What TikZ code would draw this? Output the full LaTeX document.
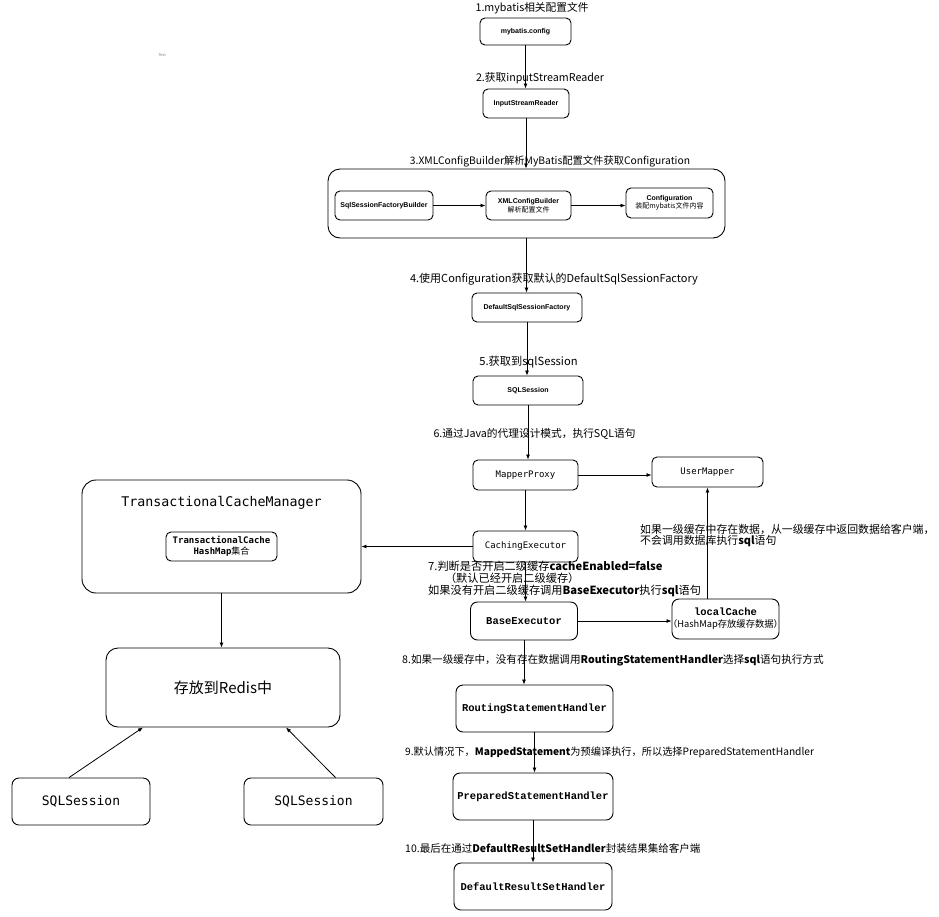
\documentclass[tikz,border=0pt]{standalone}
\usepackage{fontspec}
\setmainfont{Liberation Sans}
\newfontfamily\cjk{Noto Sans CJK SC}
\newfontfamily\cour{Liberation Mono}
\newfontfamily\dmono{DejaVu Sans Mono}
\usetikzlibrary{arrows.meta}

\begin{document}
\begin{tikzpicture}[x=1pt, y=-1pt,
    box/.style={draw, rounded corners=5pt, line width=0.9pt, align=center, inner sep=1pt},
    hbox/.style={box, font=\bfseries\fontsize{7}{8.5}\selectfont},
    mbox/.style={box, font=\dmono\fontsize{9}{11}\selectfont},
    cbox/.style={box, rounded corners=7pt, font=\cour\bfseries\fontsize{10.5}{12}\selectfont},
    lbl/.style={font=\cjk\fontsize{10.7}{12}\selectfont, inner sep=0pt, align=left},
    arr/.style={-{Latex[length=5pt,width=4pt]}, line width=0.8pt}]
    \useasboundingbox (0,0) rectangle (939,916);

    % top of the flow
    \node[hbox, minimum width=91pt, minimum height=27pt] (cfg) at (525.5,31.5) {mybatis.config};
    \node[hbox, minimum width=86pt, minimum height=29pt] (isr) at (526,103.5) {InputStreamReader};
    \node[box, rounded corners=12pt, minimum width=397pt, minimum height=69pt] (outer) at (526.5,203.5) {};
    \node[hbox, minimum width=98pt, minimum height=29pt] (sfb) at (384,205.5) {SqlSessionFactoryBuilder};
    \node[hbox, minimum width=85pt, minimum height=29pt] (xcb) at (528.5,205.5) {XMLConfigBuilder\\{\cjk\mdseries 解析配置文件}};
    \node[hbox, minimum width=87pt, minimum height=30pt] (conf) at (669.5,203) {Configuration\\{\cjk\mdseries 装配mybatis文件内容}};
    \node[hbox, minimum width=110pt, minimum height=29pt] (dsf) at (527,307.5) {DefaultSqlSessionFactory};
    \node[hbox, minimum width=110pt, minimum height=29pt] (sqls) at (528,390.5) {SQLSession};

    % executors
    \node[mbox, minimum width=105pt, minimum height=30pt] (mp) at (525.5,475) {MapperProxy};
    \node[mbox, minimum width=111pt, minimum height=30pt] (um) at (707.5,472) {UserMapper};
    \node[mbox, minimum width=105pt, minimum height=31pt] (ce) at (525.5,546.5) {CachingExecutor};
    \node[cbox, minimum width=107pt, minimum height=38pt] (be) at (524,621) {BaseExecutor};
    \node[cbox, minimum width=107pt, minimum height=40pt] (lc) at (725.5,619)
        {localCache\\\makebox[0pt]{\cjk\mdseries\fontsize{9.3}{11}\selectfont （HashMap存放缓存数据）}};
    \node[cbox, minimum width=157pt, minimum height=47pt] (rsh) at (534.5,708.5) {RoutingStatementHandler};
    \node[cbox, minimum width=160pt, minimum height=47pt] (psh) at (533,796.5) {PreparedStatementHandler};
    \node[cbox, minimum width=158pt, minimum height=47pt] (drsh) at (533,886.5) {DefaultResultSetHandler};

    % second level cache side
    \node[box, rounded corners=14pt, minimum width=279pt, minimum height=113pt] (tcm) at (221.5,536.5) {};
    \node[font=\dmono\fontsize{13.3}{15}\selectfont, inner sep=0pt] (tcmt) at (221.5,503) {TransactionalCacheManager};
    \node[box, font=\dmono\bfseries\fontsize{9}{11}\selectfont, minimum width=111pt, minimum height=29pt] (tcmc) at (221.5,546.5)
        {TransactionalCache\\HashMap{\cjk\mdseries 集合}};
    \node[box, rounded corners=12pt, font=\cjk\fontsize{15}{18}\selectfont, minimum width=234pt, minimum height=79pt] (redis) at (223,687.5) {存放到Redis中};
    \node[box, rounded corners=7pt, font=\dmono\fontsize{13}{15}\selectfont, minimum width=138pt, minimum height=47pt] (ssl) at (81,801.5) {SQLSession};
    \node[box, rounded corners=7pt, font=\dmono\fontsize{13}{15}\selectfont, minimum width=139pt, minimum height=47pt] (ssr) at (313.5,801.5) {SQLSession};

    \node[font=\fontsize{4}{5}\selectfont, text=gray, inner sep=0pt] (txt) at (162,55) {Text};

    % connectors
    \draw[arr] (cfg.south) -- (cfg.south |- isr.north);
    \draw[arr] (isr.south) -- (isr.south |- outer.north);
    \draw[arr] (sfb) -- (xcb);
    \draw[arr] (xcb.east) -- (xcb.east -| conf.west);
    \draw[arr] (outer.south) -- (outer.south |- dsf.north);
    \draw[arr] (dsf.south) -- (dsf.south |- sqls.north);
    \draw[arr] (sqls.south) -- (sqls.south |- mp.north);
    \draw[arr] (mp.east) -- (mp.east -| um.west);
    \draw[arr] (mp.south) -- (mp.south |- ce.north);
    \draw[arr] (ce.west) -- (ce.west -| tcm.east);
    \draw[arr] (ce.south) -- (ce.south |- be.north);
    \draw[arr] (be.east) -- (be.east -| lc.west);
    \draw[arr] (um.south |- lc.north) -- (um.south);
    \draw[arr] (be.south) -- (be.south |- rsh.north);
    \draw[arr] (rsh.south) -- (rsh.south |- psh.north);
    \draw[arr] (psh.south) -- (psh.south |- drsh.north);
    \draw[arr] (tcm.south) -- (tcm.south |- redis.north);
    \draw[arr] ([xshift=-12pt]ssl.north) -- ([xshift=-80pt]redis.south);
    \draw[arr] ([xshift=22pt]ssr.north) -- ([xshift=63pt]redis.south);

    % step labels
    \node[lbl] (l1) at (532,8) {1.mybatis相关配置文件};
    \node[lbl] (l2) at (540,78) {2.获取inputStreamReader};
    \node[lbl, font=\cjk\fontsize{10.3}{12}\selectfont] (l3) at (550,161) {3.XMLConfigBuilder解析MyBatis配置文件获取Configuration};
    \node[lbl, font=\cjk\fontsize{11}{12}\selectfont] (l4) at (554,279) {4.使用Configuration获取默认的DefaultSqlSessionFactory};
    \node[lbl, font=\cjk\fontsize{11.2}{12}\selectfont] (l5) at (528.5,362) {5.获取到sqlSession};
    \node[lbl] (l6) at (534.5,434) {6.通过Java的代理设计模式，执行SQL语句};
    \node[lbl, anchor=west, font=\cjk\fontsize{11.2}{12}\selectfont] (l7) at (428,579)
        {7.判断是否开启二级缓存\textbf{cacheEnabled=false}\\\hspace*{1.5em}（默认已经开启二级缓存）\\如果没有开启二级缓存调用\textbf{BaseExecutor}执行\textbf{sql}语句};
    \node[lbl, anchor=west, font=\cjk\fontsize{10.9}{11.6}\selectfont] (lhit) at (640,535.5)
        {如果一级缓存中存在数据，从一级缓存中返回数据给客户端，\\不会调用数据库执行\textbf{sql}语句};
    \node[lbl, anchor=west, font=\cjk\fontsize{10.6}{12}\selectfont] (l8) at (402,660) {8.如果一级缓存中，没有存在数据调用\textbf{RoutingStatementHandler}选择\textbf{sql}语句执行方式};
    \node[lbl, anchor=west, font=\cjk\fontsize{10.2}{12}\selectfont] (l9) at (405,752) {9.默认情况下，\textbf{MappedStatement}为预编译执行，所以选择PreparedStatementHandler};
    \node[lbl, anchor=west, font=\cjk\fontsize{10.5}{12}\selectfont] (l10) at (405,848) {10.最后在通过\textbf{DefaultResultSetHandler}封装结果集给客户端};
\end{tikzpicture}
\end{document}
